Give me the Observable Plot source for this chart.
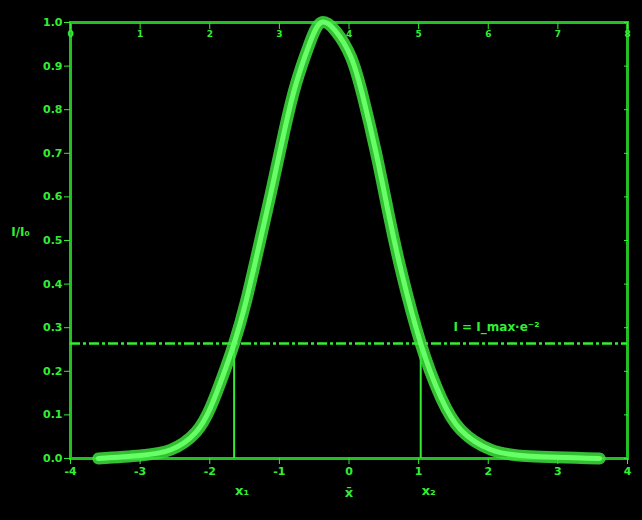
<!DOCTYPE html>
<html>
<head>
<meta charset="utf-8">
<script src="https://cdn.jsdelivr.net/npm/d3@7"></script>
<script src="https://cdn.jsdelivr.net/npm/@observablehq/plot@0.6"></script>
<style>
  html, body { margin: 0; padding: 0; background: #000; }
  #chart { width: 642px; height: 520px; }
</style>
</head>
<body>
<div id="chart"></div>
<script>
// Curve (x in axis units, y relative intensity)
const curveX = [-3.6, -3.0, -2.56, -2.2, -1.98, -1.81, -1.65, -1.48, -1.29, -1.12, -0.93, -0.76, -0.57, -0.40, -0.19, 0.03, 0.2, 0.39, 0.57, 0.75, 1.03, 1.32, 1.61, 2.04, 2.6, 3.6];
const curveY = [0.0, 0.007, 0.02, 0.06, 0.12, 0.19, 0.264, 0.36, 0.49, 0.61, 0.75, 0.86, 0.95, 1.0, 0.98, 0.92, 0.83, 0.70, 0.56, 0.43, 0.264, 0.14, 0.065, 0.02, 0.005, 0.0];
const level = 0.264;
const crossX = [-1.65, 1.03];
const crossLabels = ["x₁", "x₂"];
const xTicks = [-4, -3, -2, -1, 0, 1, 2, 3, 4];
const xTickLabels = ["-4", "-3", "-2", "-1", "0", "1", "2", "3", "4"];
const topTickLabels = ["0", "1", "2", "3", "4", "5", "6", "7", "8"];
const yTicks = [0, 0.1, 0.2, 0.3, 0.4, 0.5, 0.6, 0.7, 0.8, 0.9, 1.0];
const yLabel = "I/I₀";
const levelLabel = "I = I_max·e⁻²";
const centerLabel = "x̄";

const curve = curveX.map((x, i) => ({x, y: curveY[i]}));
const crosses = crossX.map((x, i) => ({x, label: crossLabels[i]}));
const G = "#33ee33", GD = "#22c022";

const chart = Plot.plot({
  width: 642, height: 520,
  marginLeft: 70, marginRight: 15, marginTop: 22, marginBottom: 62,
  style: {background: "#000", color: G, fontFamily: "DejaVu Sans", fontSize: "10px", fontWeight: "bold"},
  x: {domain: [-4, 4]},
  y: {domain: [0, 1]},
  marks: [
    Plot.frame({stroke: GD, strokeWidth: 3}),
    Plot.axisY(yTicks, {anchor: "left", tickSize: 6, tickPadding: 2, stroke: G, fill: G, tickFormat: d => d.toFixed(1), label: null, fontSize: 11}),
    Plot.axisY(yTicks, {anchor: "right", tickSize: -4, stroke: G, tickFormat: () => "", label: null}),
    Plot.axisX(xTicks, {anchor: "bottom", tickSize: 6, tickPadding: 3, stroke: G, fill: G, tickFormat: (d, i) => xTickLabels[i], label: null, fontSize: 11}),
    Plot.axisX(xTicks, {anchor: "top", tickSize: -6, tickPadding: -8, stroke: G, fill: G, tickFormat: (d, i) => topTickLabels[i], label: null, fontSize: 9}),
    Plot.ruleY([level], {stroke: G, strokeWidth: 2.5, strokeDasharray: "10,3,3,3"}),
    Plot.ruleX(crosses, {x: "x", y1: 0, y2: level, stroke: G, strokeWidth: 2}),
    Plot.line(curve, {x: "x", y: "y", curve: "natural", stroke: "#3ddf3d", strokeWidth: 12, strokeOpacity: 0.85}),
    Plot.line(curve, {x: "x", y: "y", curve: "natural", stroke: "#66ff66", strokeWidth: 5}),
    Plot.text(crosses, {x: "x", y: 0, text: "label", dy: 32, dx: 8, fill: G, fontSize: 13}),
    Plot.text([centerLabel], {x: 0, y: 0, text: d => d, dy: 34, fill: G, fontSize: 13}),
    Plot.text([levelLabel], {x: 1.5, y: level, text: d => d, dy: -16, textAnchor: "start", fill: G, fontSize: 12}),
    Plot.text([yLabel], {x: -4, y: 0.52, text: d => d, dx: -50, fill: G, fontSize: 12})
  ]
});
document.getElementById("chart").append(chart);
</script>
</body>
</html>
